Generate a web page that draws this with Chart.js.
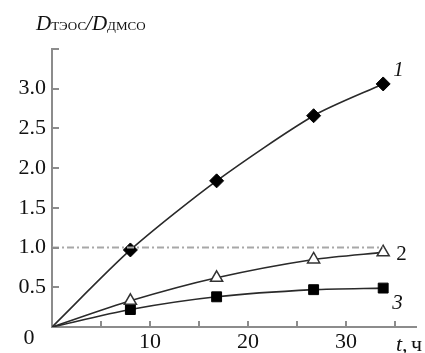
<!DOCTYPE html>
<html>
<head>
<meta charset="utf-8">
<script src="https://cdn.jsdelivr.net/npm/chart.js@4/dist/chart.umd.min.js"></script>
<style>
  html, body { margin: 0; padding: 0; background: #fff; }
  #wrap { width: 425px; height: 353px; }
</style>
</head>
<body>
<div id="wrap"><canvas id="c" width="425" height="353"></canvas></div>
<script>
// время, ч
const timeH  = [0, 8.0, 16.8, 26.7, 33.8];
// D_ТЭОС / D_ДМСО для трёх кривых
const curve1 = [0, 0.97, 1.84, 2.66, 3.06];
const curve2 = [0, 0.33, 0.62, 0.85, 0.94];
const curve3 = [0, 0.22, 0.38, 0.47, 0.49];
const refLevel = 1.0;
const refSpan  = [0, 33.8];
const xTickMarks = [5, 10, 15, 20, 25, 30, 35];
const xTickLabels = [10, 20, 30];
const yTickMarks = [0.5, 1.0, 1.5, 2.0, 2.5, 3.0, 3.5];
const yTickLabels = [0.5, 1.0, 1.5, 2.0, 2.5, 3.0];
const curveNames = ['1', '2', '3'];

const axisColor = '#8c8c8c';
const lineColor = '#2a2a2a';
const serif = '"Liberation Serif", "Times New Roman", serif';

const pts = ys => timeH.map((t, i) => ({ x: t, y: ys[i] }));
const radii = r => timeH.map((t, i) => i === 0 ? 0 : r);

const decor = {
    id: 'decor',
    afterDraw(chart) {
        const c = chart.ctx;
        const xs = chart.scales.x, ys = chart.scales.y;
        c.save();
        // inner ticks
        c.strokeStyle = axisColor;
        c.lineWidth = 2;
        c.beginPath();
        xTickMarks.forEach(v => {
            const px = Math.round(xs.getPixelForValue(v));
            c.moveTo(px, ys.bottom); c.lineTo(px, ys.bottom - 6);
        });
        yTickMarks.forEach(v => {
            const py = Math.round(ys.getPixelForValue(v));
            c.moveTo(xs.left, py); c.lineTo(xs.left + 7, py);
        });
        c.stroke();

        c.fillStyle = '#111';
        c.textBaseline = 'alphabetic';
        // origin "0"
        c.font = '22px ' + serif;
        c.textAlign = 'center';
        c.fillText('0', 29, ys.bottom + 17);

        // curve numbers
        const last = timeH.length - 1;
        c.textAlign = 'left';
        c.font = 'italic 21px ' + serif;
        c.fillText(curveNames[0], xs.getPixelForValue(timeH[last]) + 10, ys.getPixelForValue(curve1[last]) - 8);
        c.font = '21px ' + serif;
        c.fillText(curveNames[1], xs.getPixelForValue(timeH[last]) + 13, ys.getPixelForValue(curve2[last]) + 8);
        c.font = 'italic 21px ' + serif;
        c.fillText(curveNames[2], xs.getPixelForValue(timeH[last]) + 9, ys.getPixelForValue(curve3[last]) + 21);

        // axis unit
        c.font = 'italic 22px ' + serif;
        c.fillText('t,', 396, ys.bottom + 24);
        c.font = '22px ' + serif;
        c.fillText('ч', 411, ys.bottom + 24);

        // y title
        let x = 36;
        const base = 30;
        c.font = 'italic 21px ' + serif;
        c.fillText('D', x, base); x += c.measureText('D').width;
        c.font = '13px ' + serif;
        c.fillText('ТЭОС', x, base); x += c.measureText('ТЭОС').width;
        c.font = 'italic 21px ' + serif;
        c.fillText('/D', x, base); x += c.measureText('/D').width;
        c.font = '13px ' + serif;
        c.fillText('ДМСО', x, base);
        c.restore();
    }
};

new Chart(document.getElementById('c'), {
    type: 'line',
    plugins: [decor],
    data: {
        datasets: [
            {
                data: [{ x: refSpan[0], y: refLevel }, { x: refSpan[1], y: refLevel }],
                borderColor: '#a8a8a8',
                borderWidth: 2,
                borderDash: [7, 3, 2, 3],
                pointRadius: 0,
                tension: 0
            },
            {
                data: pts(curve1),
                borderColor: lineColor,
                borderWidth: 1.6,
                tension: 0.25,
                pointStyle: 'rectRot',
                pointRadius: radii(7),
                pointBackgroundColor: '#000',
                pointBorderColor: '#000',
                pointBorderWidth: 1
            },
            {
                data: pts(curve2),
                borderColor: lineColor,
                borderWidth: 1.6,
                tension: 0.25,
                pointStyle: 'triangle',
                pointRadius: radii(7),
                pointBackgroundColor: '#fff',
                pointBorderColor: '#333',
                pointBorderWidth: 1.5
            },
            {
                data: pts(curve3),
                borderColor: lineColor,
                borderWidth: 1.6,
                tension: 0.25,
                pointStyle: 'rect',
                pointRadius: radii(7),
                pointBackgroundColor: '#000',
                pointBorderColor: '#000',
                pointBorderWidth: 1
            }
        ]
    },
    options: {
        responsive: false,
        animation: false,
        layout: { padding: { top: 49, right: 8, left: 0, bottom: 0 } },
        plugins: { legend: { display: false }, tooltip: { enabled: false } },
        scales: {
            x: {
                type: 'linear',
                min: 0,
                max: 37.2,
                afterFit: s => { s.height = 26; },
                grid: { display: false, drawTicks: false },
                border: { display: true, color: axisColor, width: 2 },
                ticks: {
                    stepSize: 5,
                    autoSkip: false,
                    maxRotation: 0,
                    padding: 2,
                    color: '#111',
                    font: { family: serif, size: 22 },
                    callback: v => xTickLabels.includes(v) ? String(v) : ''
                }
            },
            y: {
                min: 0,
                max: 3.5,
                afterFit: s => { s.width = 52; },
                grid: { display: false, drawTicks: false },
                border: { display: true, color: axisColor, width: 2 },
                ticks: {
                    stepSize: 0.5,
                    autoSkip: false,
                    padding: 6,
                    color: '#111',
                    font: { family: serif, size: 22 },
                    callback: v => yTickLabels.includes(v) ? v.toFixed(1) : ''
                }
            }
        }
    }
});
</script>
</body>
</html>
